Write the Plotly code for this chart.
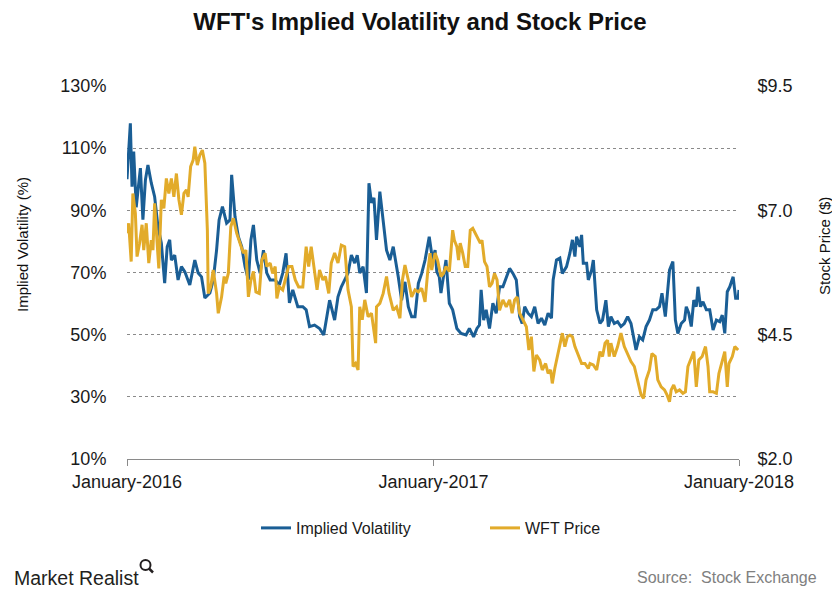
import plotly.graph_objects as go

# ---------------- data ----------------
iv_dates = [
    "2016-01-01", "2016-01-05", "2016-01-07", "2016-01-09", "2016-01-12", "2016-01-17", "2016-01-20", "2016-01-23", "2016-01-26", "2016-01-30",
    "2016-02-03", "2016-02-07", "2016-02-11", "2016-02-15", "2016-02-18", "2016-02-21", "2016-02-23", "2016-02-27",
    "2016-03-02", "2016-03-06", "2016-03-10", "2016-03-16", "2016-03-22", "2016-03-26", "2016-03-30",
    "2016-04-03", "2016-04-09", "2016-04-13", "2016-04-17", "2016-04-20", "2016-04-24", "2016-04-29",
    "2016-05-03", "2016-05-05", "2016-05-09", "2016-05-13", "2016-05-17", "2016-05-21", "2016-05-25", "2016-05-28", "2016-05-31",
    "2016-06-04", "2016-06-08", "2016-06-12", "2016-06-16", "2016-06-20", "2016-06-26",
    "2016-07-01", "2016-07-05", "2016-07-09", "2016-07-13", "2016-07-17", "2016-07-23", "2016-07-29",
    "2016-08-02", "2016-08-06", "2016-08-12", "2016-08-18", "2016-08-23", "2016-08-26", "2016-08-30",
    "2016-09-05", "2016-09-09", "2016-09-13", "2016-09-17", "2016-09-21", "2016-09-25", "2016-09-29",
    "2016-10-02", "2016-10-05", "2016-10-09", "2016-10-13", "2016-10-16", "2016-10-19", "2016-10-22", "2016-10-25", "2016-10-29",
    "2016-11-02", "2016-11-06", "2016-11-10", "2016-11-14", "2016-11-20", "2016-11-24", "2016-11-28",
    "2016-12-02", "2016-12-06", "2016-12-10", "2016-12-14", "2016-12-18", "2016-12-22", "2016-12-27", "2016-12-31",
    "2017-01-03", "2017-01-05", "2017-01-08", "2017-01-10", "2017-01-16", "2017-01-20", "2017-01-24", "2017-01-29",
    "2017-02-03", "2017-02-09", "2017-02-13", "2017-02-18", "2017-02-22", "2017-02-25", "2017-02-27",
    "2017-03-02", "2017-03-05", "2017-03-09", "2017-03-13", "2017-03-17", "2017-03-21", "2017-03-25", "2017-03-29",
    "2017-04-02", "2017-04-06", "2017-04-10", "2017-04-14", "2017-04-17", "2017-04-20", "2017-04-24", "2017-04-28",
    "2017-05-02", "2017-05-06", "2017-05-10", "2017-05-14", "2017-05-18", "2017-05-22", "2017-05-24", "2017-05-28",
    "2017-06-01", "2017-06-04", "2017-06-09", "2017-06-13", "2017-06-16", "2017-06-19", "2017-06-21", "2017-06-25", "2017-06-27", "2017-06-29",
    "2017-07-03", "2017-07-05", "2017-07-09", "2017-07-11", "2017-07-15", "2017-07-19", "2017-07-22", "2017-07-26", "2017-07-29",
    "2017-08-01", "2017-08-05", "2017-08-09", "2017-08-13", "2017-08-17", "2017-08-21", "2017-08-25", "2017-08-29", "2017-08-31",
    "2017-09-04", "2017-09-08", "2017-09-12", "2017-09-16", "2017-09-20", "2017-09-24", "2017-09-28",
    "2017-10-01", "2017-10-05", "2017-10-08", "2017-10-10", "2017-10-14", "2017-10-17", "2017-10-20", "2017-10-24", "2017-10-28", "2017-10-30",
    "2017-11-02", "2017-11-05", "2017-11-08", "2017-11-11", "2017-11-13", "2017-11-16", "2017-11-19", "2017-11-23", "2017-11-27",
    "2017-12-01", "2017-12-05", "2017-12-09", "2017-12-12", "2017-12-15", "2017-12-18", "2017-12-21", "2017-12-25", "2017-12-28", "2017-12-31",
    "2018-01-01",
]
iv_values = [
    100, 118, 97.6, 108.9, 91, 103.6, 87, 99.8, 104.6, 98.8,
    94.4, 84.7, 79.5, 66.6, 78.3, 80.5, 74, 75.6,
    67.6, 71.9, 70.3, 66, 74, 69.8, 68.6,
    61.8, 63.4, 67.6, 77.2, 86.9, 91.2, 85.9,
    86.9, 101.4, 88, 81.5, 78.3, 71.9, 67.6, 80.5, 85.3,
    74, 69.8, 77.2, 69.8, 67.6, 67.6,
    66, 69.8, 76.2, 60.2, 64.4, 59, 59,
    58, 52.6, 53.1, 52, 49.9, 54.7, 61.1,
    54.7, 62.2, 65.4, 67.6, 69.8, 75.6, 73,
    75.6, 69.8, 71.9, 63.4, 98.7, 92.4, 94, 80.5, 96,
    86.9, 77.2, 74, 78.3, 68.6, 61.1, 67,
    59, 55.8, 55.8, 66.5, 69.7, 74, 81.5, 74,
    77.2, 70.3, 68.6, 63.4, 74, 60.1, 58, 52,
    50.4, 49.9, 52, 49.3, 52, 53.1, 64.4,
    54.7, 58, 52, 60.1, 56.9, 65.4, 65.4, 68.6,
    71.3, 69.7, 67.6, 55.8, 53.6, 59, 56.9, 55.8,
    59, 53.6, 55.3, 53.1, 56.9, 55.3, 67.6, 74,
    74.6, 69.7, 71.9, 76.2, 80.5, 75.1, 81.5, 78.3, 82.1, 73,
    73, 67.6, 70.8, 74, 58, 53.6, 54.7, 61.1, 52.6,
    55.8, 53.6, 54.2, 52.6, 53.6, 55.8, 53.6, 47.2, 45.1,
    49.3, 48.3, 52.6, 54.7, 58, 58, 59,
    63.3, 55.8, 65.4, 70.8, 73.5, 54.7, 50.4, 53.6, 54.7, 59,
    56.9, 52.6, 61.1, 59, 65.4, 59, 60.6, 58, 58,
    51.5, 54.7, 54.2, 56.3, 50.4, 63.8, 65.4, 68.6, 61.7, 61.7,
    64.4,
]

price_dates = [
    "2016-01-01", "2016-01-03", "2016-01-06", "2016-01-08", "2016-01-11", "2016-01-13", "2016-01-16", "2016-01-19", "2016-01-21", "2016-01-24", "2016-01-27", "2016-01-30",
    "2016-02-01", "2016-02-03", "2016-02-05", "2016-02-08", "2016-02-11", "2016-02-14", "2016-02-17", "2016-02-20", "2016-02-23", "2016-02-26", "2016-02-29",
    "2016-03-03", "2016-03-06", "2016-03-09", "2016-03-12", "2016-03-14", "2016-03-17", "2016-03-20", "2016-03-22", "2016-03-25", "2016-03-28", "2016-03-31",
    "2016-04-03", "2016-04-06", "2016-04-07", "2016-04-10", "2016-04-13", "2016-04-17", "2016-04-19", "2016-04-23", "2016-04-26", "2016-04-28",
    "2016-05-01", "2016-05-04", "2016-05-07", "2016-05-11", "2016-05-15", "2016-05-19", "2016-05-22", "2016-05-25", "2016-05-28", "2016-05-31",
    "2016-06-03", "2016-06-07", "2016-06-10", "2016-06-14", "2016-06-16", "2016-06-20", "2016-06-23", "2016-06-26", "2016-06-28",
    "2016-07-01", "2016-07-05", "2016-07-08", "2016-07-12", "2016-07-16", "2016-07-20", "2016-07-24", "2016-07-29",
    "2016-08-02", "2016-08-05", "2016-08-08", "2016-08-12", "2016-08-15", "2016-08-18", "2016-08-22", "2016-08-25", "2016-08-29",
    "2016-09-01", "2016-09-05", "2016-09-09", "2016-09-13", "2016-09-17", "2016-09-21", "2016-09-25", "2016-09-27", "2016-09-30",
    "2016-10-03", "2016-10-05", "2016-10-08", "2016-10-11", "2016-10-15", "2016-10-19", "2016-10-24", "2016-10-25", "2016-10-29",
    "2016-11-02", "2016-11-06", "2016-11-09", "2016-11-14", "2016-11-18", "2016-11-22", "2016-11-25", "2016-11-28",
    "2016-12-02", "2016-12-06", "2016-12-10", "2016-12-14", "2016-12-18", "2016-12-22", "2016-12-25", "2016-12-28", "2016-12-30",
    "2017-01-03", "2017-01-06", "2017-01-10", "2017-01-13", "2017-01-16", "2017-01-20", "2017-01-24", "2017-01-26", "2017-01-29", "2017-01-31",
    "2017-02-02", "2017-02-05", "2017-02-08", "2017-02-11", "2017-02-14", "2017-02-17", "2017-02-20", "2017-02-23", "2017-02-26", "2017-02-28",
    "2017-03-03", "2017-03-06", "2017-03-09", "2017-03-12", "2017-03-15", "2017-03-18", "2017-03-21", "2017-03-25", "2017-03-29",
    "2017-04-02", "2017-04-05", "2017-04-08", "2017-04-11", "2017-04-14", "2017-04-18", "2017-04-22", "2017-04-25", "2017-04-28",
    "2017-05-01", "2017-05-04", "2017-05-08", "2017-05-11", "2017-05-15", "2017-05-18", "2017-05-21", "2017-05-23", "2017-05-26", "2017-05-29",
    "2017-06-01", "2017-06-04", "2017-06-07", "2017-06-10", "2017-06-13", "2017-06-16", "2017-06-19", "2017-06-24", "2017-06-27",
    "2017-07-01", "2017-07-05", "2017-07-07", "2017-07-11", "2017-07-15", "2017-07-19", "2017-07-22", "2017-07-25", "2017-07-28", "2017-07-30",
    "2017-08-01", "2017-08-05", "2017-08-09", "2017-08-13", "2017-08-17", "2017-08-21", "2017-08-25", "2017-08-29",
    "2017-09-02", "2017-09-06", "2017-09-09", "2017-09-12", "2017-09-16", "2017-09-19", "2017-09-23", "2017-09-26", "2017-09-30",
    "2017-10-04", "2017-10-07", "2017-10-10", "2017-10-12", "2017-10-15", "2017-10-18", "2017-10-22", "2017-10-26", "2017-10-29",
    "2017-11-01", "2017-11-04", "2017-11-08", "2017-11-11", "2017-11-14", "2017-11-18", "2017-11-22", "2017-11-25", "2017-11-27",
    "2017-12-01", "2017-12-05", "2017-12-08", "2017-12-12", "2017-12-15", "2017-12-18", "2017-12-20", "2017-12-24", "2017-12-27", "2017-12-31",
]
price_values = [
    6.54, 6.74, 5.97, 7.34, 6.94, 6.07, 6.34, 6.71, 6.20, 6.74, 5.94, 6.40,
    6.20, 7.14, 6.60, 5.83, 7.21, 7.04, 7.64, 7.34, 7.64, 7.27, 7.74,
    7.21, 6.91, 7.34, 7.41, 7.27, 7.88, 8.01, 8.28, 7.91, 8.11, 8.21,
    7.95, 6.60, 5.33, 5.46, 5.80, 5.33, 4.93, 5.26, 5.67, 5.53,
    5.73, 6.67, 6.84, 6.54, 6.34, 6.14, 6.20, 5.26, 5.60, 5.77,
    5.36, 5.33, 6.00, 6.14, 5.87, 5.94, 5.73, 5.87, 5.23,
    5.46, 5.40, 5.60, 5.87, 5.87, 5.60, 5.46, 5.46,
    6.27, 5.87, 6.27, 5.80, 5.40, 5.80, 5.60, 5.67, 5.33,
    5.94, 6.14, 5.94, 6.30, 6.27, 5.40, 5.06, 3.86, 3.92,
    3.79, 5.06, 4.80, 5.20, 4.86, 4.93, 4.33, 5.06, 5.13,
    5.33, 5.67, 5.33, 4.99, 5.06, 4.83, 5.60, 5.90,
    5.60, 5.26, 5.40, 5.36, 5.43, 5.16, 5.73, 6.14, 5.80,
    6.14, 6.00, 5.67, 5.73, 5.87, 5.77, 6.60, 6.40, 6.27, 6.00,
    6.34, 6.14, 5.87, 5.87, 6.60, 6.64, 6.54, 6.47, 6.34, 6.40,
    5.97, 5.87, 5.46, 5.53, 5.73, 5.60, 4.99, 5.20, 5.06,
    5.20, 4.93, 5.20, 5.26, 4.93, 4.80, 4.66, 4.19, 4.46,
    3.76, 4.09, 3.99, 3.79, 3.92, 3.72, 3.79, 3.52, 3.82, 4.06,
    4.33, 4.53, 4.26, 4.46, 4.49, 4.46, 4.26, 4.02, 3.92,
    3.92, 3.82, 3.92, 3.89, 3.79, 4.16, 4.06, 4.33, 4.39, 4.06,
    4.33, 4.06, 4.26, 4.53, 4.26, 4.12, 3.96, 3.86,
    3.59, 3.29, 3.22, 3.59, 3.79, 4.12, 4.06, 3.59, 3.45,
    3.39, 3.29, 3.15, 3.39, 3.49, 3.35, 3.39, 3.32, 3.35,
    3.86, 3.99, 4.16, 3.45, 3.99, 4.06, 4.26, 3.86, 3.35,
    3.35, 3.32, 3.72, 3.99, 4.16, 3.45, 3.92, 4.06, 4.26, 4.19,
]

x_tick_dates = ["2016-01-01", "2017-01-01", "2018-01-01"]
x_tick_labels = ["January-2016", "January-2017", "January-2018"]
iv_ticks = [10, 30, 50, 70, 90, 110, 130]
iv_tick_labels = ["10%", "30%", "50%", "70%", "90%", "110%", "130%"]
price_ticks = [2.0, 4.5, 7.0, 9.5]
price_tick_labels = ["$2.0", "$4.5", "$7.0", "$9.5"]

# ---------------- styling ----------------
BLUE = "#1a5e95"
GOLD = "#e2ab2a"
GRID = "#8a8a8a"
TEXT = "#1a1a1a"
FONT = "Liberation Sans, Arial, sans-serif"

# the page body adds an 8px offset, so the figure is laid out 8px smaller
W, H = 832, 592
PL, PR, PT, PB = 119, 101, 78, 141      # plot area margins
PW = W - PL - PR                        # plot width (px)
PH = H - PT - PB                        # plot height (px)


def px_x(px):
    """page x pixel -> paper x"""
    return (px - 8 - PL) / PW


def px_y(py):
    """page y pixel -> paper y"""
    return (H - PB - (py - 8)) / PH


fig = go.Figure()
fig.add_trace(go.Scatter(
    x=iv_dates, y=iv_values, name="Implied Volatility", mode="lines",
    line=dict(color=BLUE, width=3), yaxis="y",
))
fig.add_trace(go.Scatter(
    x=price_dates, y=price_values, name="WFT Price", mode="lines",
    line=dict(color=GOLD, width=3), yaxis="y2",
))

fig.update_layout(
    width=W, height=H,
    margin=dict(l=PL, r=PR, t=PT, b=PB),
    paper_bgcolor="white", plot_bgcolor="white",
    font=dict(family=FONT, color=TEXT),
    title=dict(
        text="<b>WFT's Implied Volatility and Stock Price</b>",
        x=px_x(420), xanchor="center", xref="paper",
        y=1 - (22 - 8) / H, yanchor="middle", yref="container",
        font=dict(size=24, color="#111111", family=FONT),
    ),
    xaxis=dict(
        type="date", range=["2016-01-01", "2018-01-01"],
        tickmode="array", tickvals=x_tick_dates, ticktext=x_tick_labels,
        showgrid=False, zeroline=False,
        showline=True, linecolor=GRID, linewidth=1,
        ticks="outside", ticklen=6, tickcolor=GRID,
        tickfont=dict(size=18, color=TEXT),
    ),
    yaxis=dict(
        range=[10, 130], tickmode="array", tickvals=iv_ticks, ticktext=iv_tick_labels,
        showgrid=True, gridcolor=GRID, gridwidth=1, griddash="3px,3px",
        zeroline=False, showline=False,
        ticks="outside", ticklen=16, tickcolor="rgba(0,0,0,0)",
        tickfont=dict(size=18, color=TEXT),
    ),
    yaxis2=dict(
        overlaying="y", side="right",
        range=[2.0, 9.5], tickmode="array", tickvals=price_ticks, ticktext=price_tick_labels,
        showgrid=False, zeroline=False, showline=False,
        ticks="outside", ticklen=14, tickcolor="rgba(0,0,0,0)",
        tickfont=dict(size=18, color=TEXT),
    ),
    legend=dict(
        orientation="h", x=px_x(256), xanchor="left",
        y=px_y(528), yanchor="middle",
        font=dict(size=16, color=TEXT),
        entrywidth=184, entrywidthmode="pixels",
        bgcolor="rgba(0,0,0,0)",
    ),
    showlegend=True,
)

# axis titles
fig.add_annotation(
    text="Implied Volatility (%)", textangle=-90,
    xref="paper", yref="paper", x=px_x(23), y=px_y(245),
    xanchor="center", yanchor="middle", showarrow=False,
    font=dict(size=15, color="#111111"),
)
fig.add_annotation(
    text="Stock Price ($)", textangle=-90,
    xref="paper", yref="paper", x=px_x(825), y=px_y(246),
    xanchor="center", yanchor="middle", showarrow=False,
    font=dict(size=15, color="#111111"),
)

# footer texts
fig.add_annotation(
    text="Market Realist",
    xref="paper", yref="paper", x=px_x(12), y=px_y(578),
    xanchor="left", yanchor="middle", showarrow=False,
    font=dict(size=19.5, color="#231f20"),
)
fig.add_annotation(
    text="Source:  Stock Exchange",
    xref="paper", yref="paper", x=px_x(819), y=px_y(577),
    xanchor="right", yanchor="middle", showarrow=False,
    font=dict(size=16, color="#808080"),
)

# small magnifier logo mark
fig.add_shape(
    type="circle", xref="paper", yref="paper",
    x0=px_x(140.5), x1=px_x(150.5),
    y0=px_y(570), y1=px_y(560),
    line=dict(color="#231f20", width=2),
)
fig.add_shape(
    type="line", xref="paper", yref="paper",
    x0=px_x(149), y0=px_y(568.5),
    x1=px_x(153), y1=px_y(572.5),
    line=dict(color="#231f20", width=2.5),
)

fig.write_html("out.html")
